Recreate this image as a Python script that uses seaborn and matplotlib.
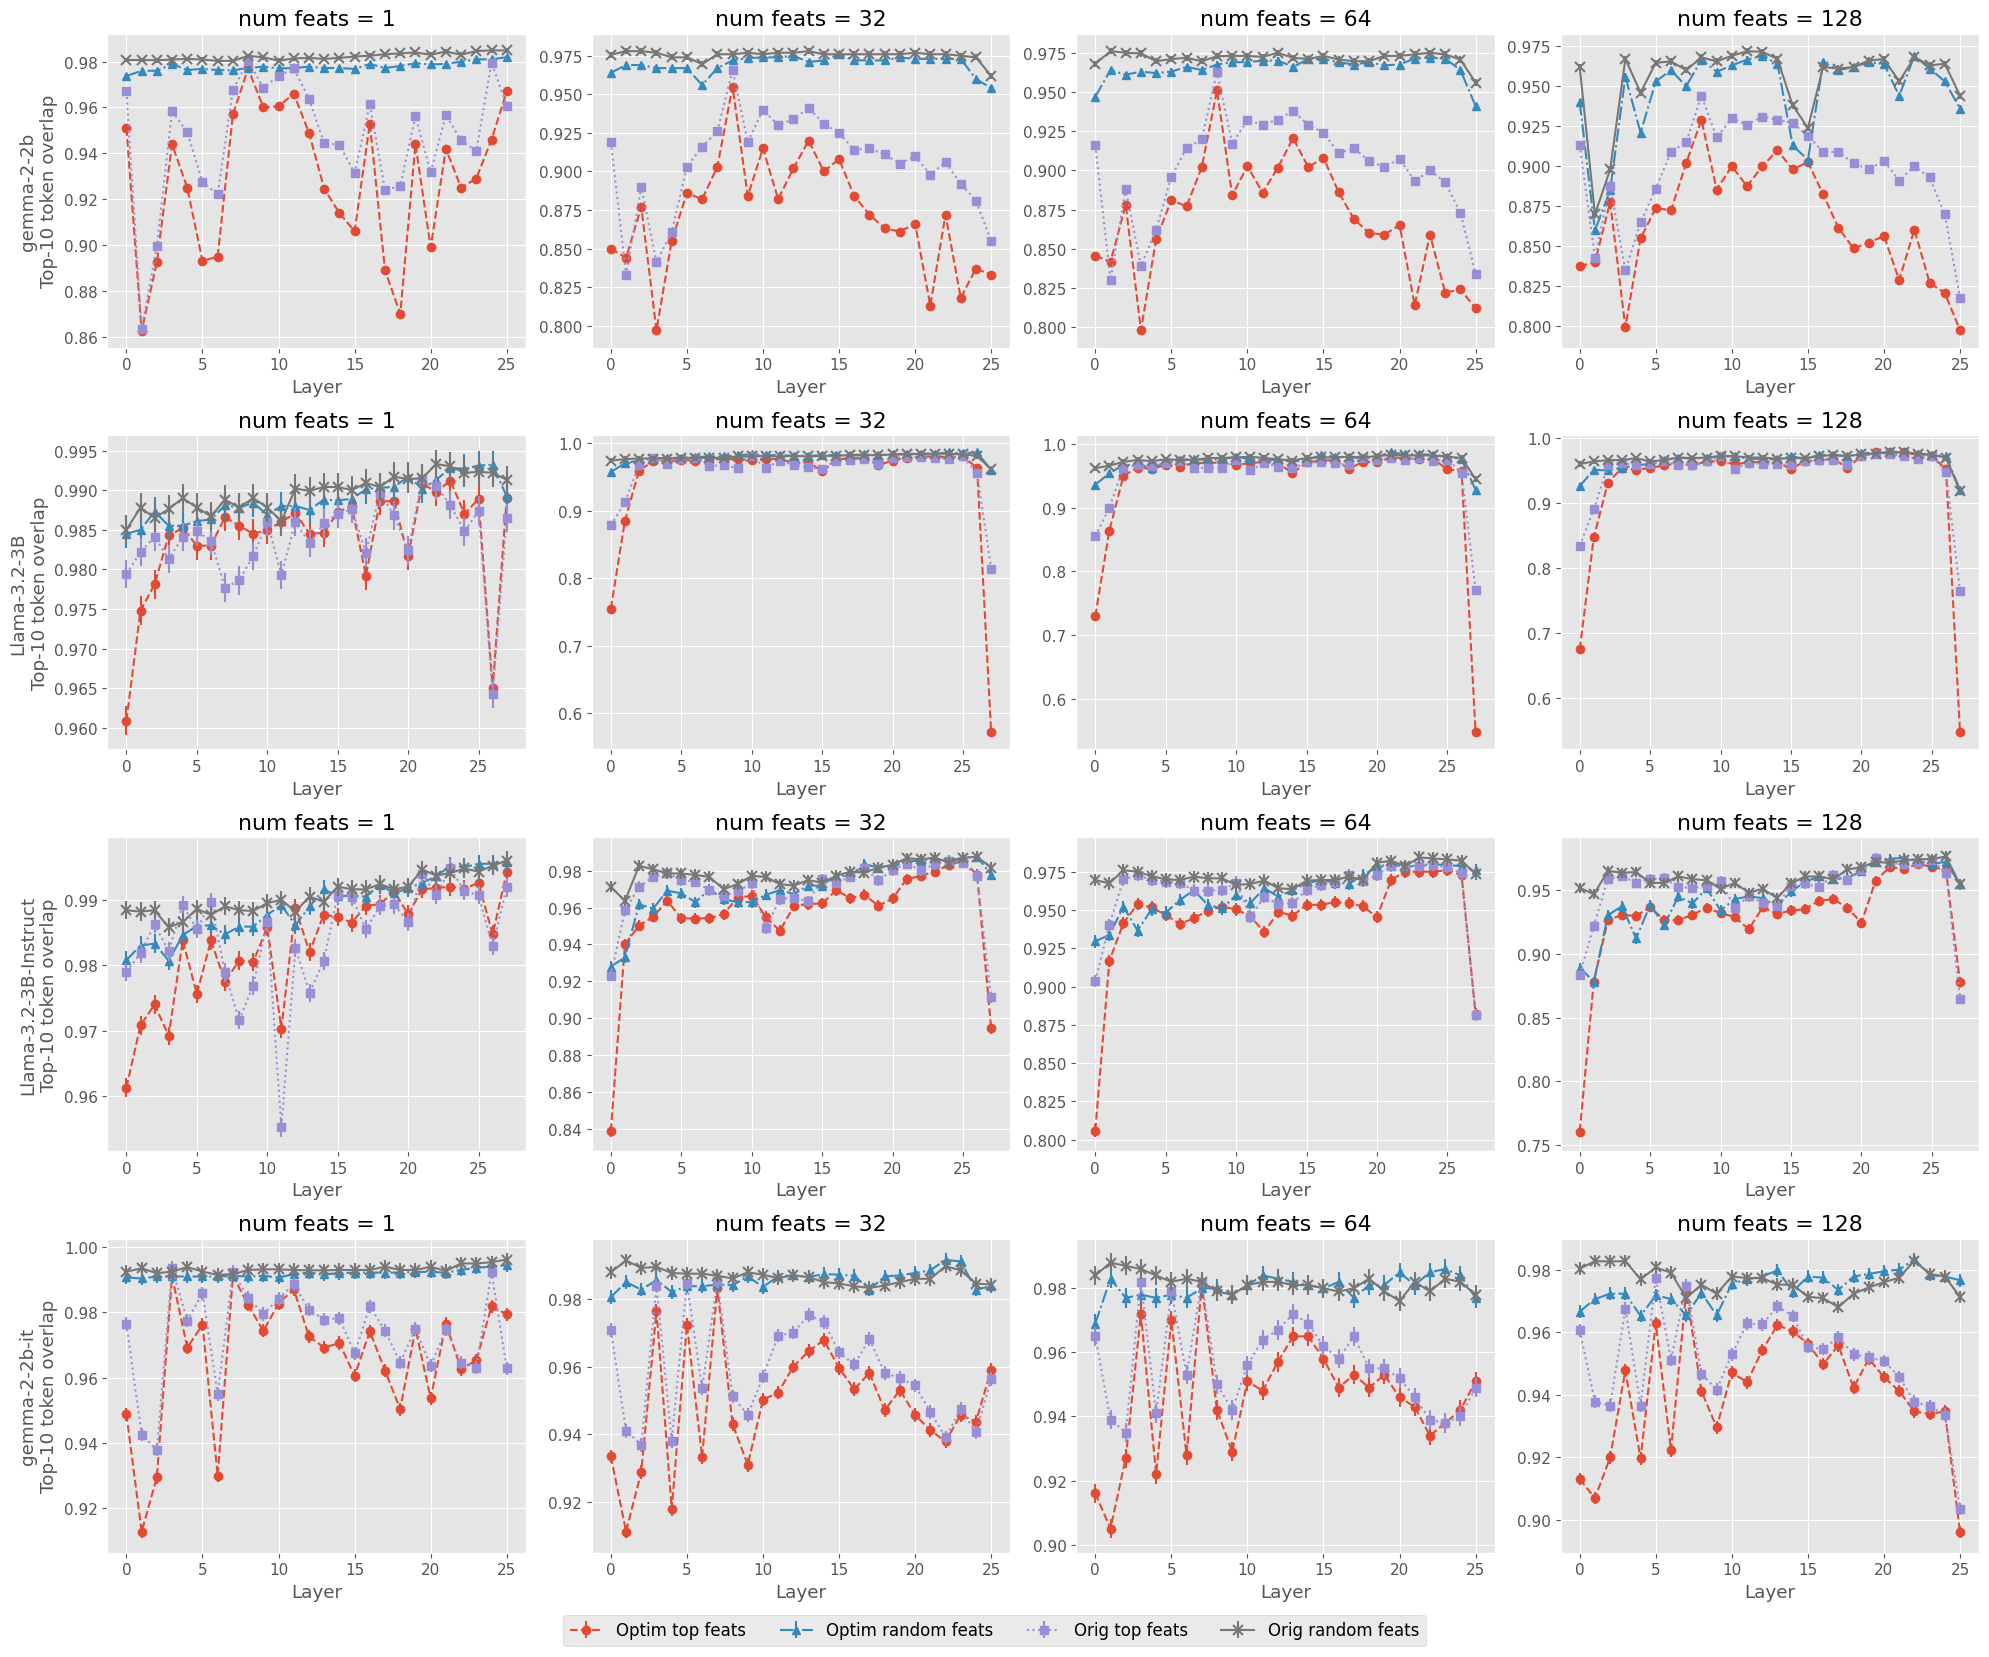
import matplotlib
matplotlib.use("Agg")
import numpy as np
import matplotlib.pyplot as plt
import seaborn as sns

plt.style.use("ggplot")
plt.rcParams["font.size"] = 11

models = ["gemma-2-2b", "Llama-3.2-3B", "Llama-3.2-3B-Instruct", "gemma-2-2b-it"]
num_feats = [1, 32, 64, 128]
series_names = ["Optim top feats", "Optim random feats", "Orig top feats", "Orig random feats"]

# ---- gemma-2-2b ----
gemma_nf1_optim_top = [0.951, 0.8625, 0.8925, 0.944, 0.925, 0.893, 0.895, 0.957, 0.977, 0.960, 0.9605, 0.966, 0.949,
                       0.9245, 0.914, 0.906, 0.953, 0.889, 0.870, 0.944, 0.899, 0.942, 0.925, 0.929, 0.946, 0.967]
gemma_nf1_optim_rand = [0.9737, 0.976, 0.976, 0.979, 0.9763, 0.9769, 0.9763, 0.9762, 0.9773, 0.9778, 0.977, 0.9772,
                        0.9778, 0.9772, 0.9772, 0.9768, 0.979, 0.9772, 0.9781, 0.9793, 0.9788, 0.979, 0.98, 0.981,
                        0.981, 0.9819]
gemma_nf1_orig_top = [0.967, 0.8634, 0.8994, 0.9584, 0.9492, 0.9275, 0.9221, 0.9676, 0.9803, 0.9686, 0.9737, 0.977,
                      0.9638, 0.9443, 0.9438, 0.9314, 0.9614, 0.9241, 0.9257, 0.9562, 0.9317, 0.9567, 0.9456, 0.941,
                      0.9796, 0.9607]
gemma_nf1_orig_rand = [0.9807, 0.9807, 0.9806, 0.9809, 0.9812, 0.9809, 0.9803, 0.9803, 0.9825, 0.9819, 0.9804, 0.9814,
                       0.9816, 0.9812, 0.9816, 0.9822, 0.9826, 0.9832, 0.9836, 0.984, 0.983, 0.9844, 0.983, 0.9846,
                       0.9849, 0.9849]

gemma_nf32_optim_top = [0.850, 0.844, 0.877, 0.797, 0.855, 0.886, 0.882, 0.903, 0.955, 0.884, 0.915, 0.882, 0.902,
                        0.920, 0.900, 0.908, 0.884, 0.872, 0.863, 0.861, 0.866, 0.813, 0.872, 0.818, 0.837, 0.833]
gemma_nf32_optim_rand = [0.964, 0.969, 0.969, 0.967, 0.967, 0.967, 0.956, 0.967, 0.972, 0.9735, 0.974, 0.974, 0.975,
                         0.971, 0.972, 0.976, 0.972, 0.972, 0.972, 0.974, 0.973, 0.973, 0.973, 0.973, 0.960, 0.954]
gemma_nf32_orig_top = [0.919, 0.833, 0.890, 0.841, 0.861, 0.903, 0.916, 0.926, 0.966, 0.919, 0.940, 0.930, 0.934,
                       0.941, 0.931, 0.925, 0.914, 0.915, 0.911, 0.905, 0.910, 0.898, 0.906, 0.892, 0.881, 0.855]
gemma_nf32_orig_rand = [0.9757, 0.978, 0.978, 0.977, 0.974, 0.974, 0.9696, 0.976, 0.976, 0.977, 0.976, 0.977, 0.977,
                        0.978, 0.976, 0.976, 0.976, 0.976, 0.976, 0.976, 0.977, 0.976, 0.976, 0.975, 0.974, 0.962]

gemma_nf64_optim_top = [0.8455, 0.8416, 0.878, 0.798, 0.856, 0.881, 0.877, 0.902, 0.951, 0.884, 0.9027, 0.8857,
                        0.9017, 0.9206, 0.902, 0.908, 0.886, 0.869, 0.860, 0.859, 0.865, 0.814, 0.859, 0.822, 0.824,
                        0.812]
gemma_nf64_optim_rand = [0.947, 0.964, 0.961, 0.963, 0.962, 0.963, 0.966, 0.964, 0.9675, 0.969, 0.969, 0.970, 0.970,
                         0.966, 0.971, 0.971, 0.969, 0.9675, 0.969, 0.967, 0.9675, 0.9713, 0.9718, 0.9713, 0.964,
                         0.941]
gemma_nf64_orig_top = [0.916, 0.830, 0.888, 0.839, 0.862, 0.896, 0.914, 0.920, 0.963, 0.917, 0.932, 0.929, 0.9324,
                       0.938, 0.929, 0.924, 0.911, 0.914, 0.906, 0.902, 0.9075, 0.893, 0.900, 0.8924, 0.873, 0.834]
gemma_nf64_orig_rand = [0.968, 0.976, 0.975, 0.9746, 0.9696, 0.971, 0.9718, 0.9696, 0.9728, 0.973, 0.973, 0.9724,
                        0.975, 0.9718, 0.971, 0.973, 0.9707, 0.9696, 0.9696, 0.973, 0.973, 0.974, 0.975, 0.974,
                        0.9707, 0.956]

gemma_nf128_optim_top = [0.8377, 0.840, 0.8776, 0.7994, 0.855, 0.874, 0.8725, 0.902, 0.929, 0.8855, 0.900, 0.8875,
                         0.900, 0.910, 0.898, 0.9026, 0.8825, 0.8617, 0.8487, 0.8523, 0.8565, 0.829, 0.8604, 0.8273,
                         0.8208, 0.7977]
gemma_nf128_optim_rand = [0.940, 0.860, 0.885, 0.956, 0.921, 0.953, 0.960, 0.950, 0.9666, 0.959, 0.963, 0.9666,
                          0.969, 0.964, 0.913, 0.904, 0.965, 0.960, 0.962, 0.965, 0.964, 0.944, 0.969, 0.961, 0.953,
                          0.936]
gemma_nf128_orig_top = [0.9133, 0.843, 0.888, 0.835, 0.865, 0.886, 0.909, 0.915, 0.944, 0.918, 0.930, 0.926, 0.931,
                        0.929, 0.927, 0.919, 0.909, 0.909, 0.902, 0.898, 0.9035, 0.891, 0.900, 0.893, 0.870, 0.818]
gemma_nf128_orig_rand = [0.962, 0.870, 0.898, 0.967, 0.946, 0.9646, 0.9655, 0.960, 0.968, 0.9655, 0.969, 0.9718,
                         0.9715, 0.967, 0.938, 0.924, 0.962, 0.961, 0.962, 0.966, 0.967, 0.953, 0.968, 0.963, 0.964,
                         0.944]

# ---- Llama-3.2-3B ----
llama_nf1_optim_top = [0.9609, 0.9748, 0.9781, 0.9843, 0.9852, 0.983, 0.983, 0.9866, 0.9855, 0.9845, 0.985, 0.986,
                       0.9871, 0.9845, 0.9846, 0.9872, 0.988, 0.9792, 0.9886, 0.9886, 0.9817, 0.9908, 0.9898, 0.9912,
                       0.987, 0.9889, 0.965, 0.989]
llama_nf1_optim_rand = [0.9845, 0.985, 0.9873, 0.9855, 0.9855, 0.9861, 0.9863, 0.9881, 0.9878, 0.9884, 0.9869, 0.988,
                        0.988, 0.9875, 0.9888, 0.9887, 0.9889, 0.9901, 0.9903, 0.9904, 0.9917, 0.9902, 0.9913, 0.9928,
                        0.9927, 0.9931, 0.9932, 0.9892]
llama_nf1_orig_top = [0.9794, 0.9822, 0.9841, 0.9813, 0.9841, 0.9848, 0.9836, 0.9777, 0.9786, 0.9817, 0.986, 0.9793,
                      0.986, 0.9833, 0.9858, 0.987, 0.9876, 0.9821, 0.9897, 0.9868, 0.9824, 0.9914, 0.9905, 0.9881,
                      0.9848, 0.9874, 0.9643, 0.9865]
llama_nf1_orig_rand = [0.985, 0.9878, 0.9865, 0.9876, 0.989, 0.9878, 0.9867, 0.9888, 0.9878, 0.989, 0.9878, 0.9861,
                       0.9902, 0.9899, 0.9904, 0.9904, 0.99, 0.9909, 0.9904, 0.9917, 0.9914, 0.9915, 0.9933, 0.993,
                       0.9922, 0.9923, 0.9922, 0.9913]

llama_nf32_optim_top = [0.755, 0.885, 0.959, 0.973, 0.973, 0.975, 0.974, 0.976, 0.976, 0.976, 0.975, 0.977, 0.976,
                        0.970, 0.972, 0.958, 0.975, 0.978, 0.978, 0.967, 0.974, 0.978, 0.980, 0.980, 0.979, 0.980,
                        0.963, 0.572]
llama_nf32_optim_rand = [0.957, 0.970, 0.974, 0.977, 0.978, 0.978, 0.979, 0.980, 0.980, 0.982, 0.983, 0.982, 0.982,
                         0.981, 0.981, 0.982, 0.982, 0.982, 0.983, 0.982, 0.983, 0.984, 0.984, 0.984, 0.986, 0.985,
                         0.986, 0.960]
llama_nf32_orig_top = [0.878, 0.912, 0.968, 0.978, 0.969, 0.976, 0.978, 0.966, 0.967, 0.963, 0.980, 0.963, 0.974,
                       0.967, 0.964, 0.962, 0.974, 0.975, 0.977, 0.969, 0.978, 0.979, 0.979, 0.978, 0.977, 0.980,
                       0.955, 0.814]
llama_nf32_orig_rand = [0.974, 0.976, 0.977, 0.977, 0.977, 0.978, 0.978, 0.978, 0.978, 0.980, 0.980, 0.981, 0.980,
                        0.981, 0.980, 0.981, 0.981, 0.982, 0.982, 0.982, 0.983, 0.983, 0.984, 0.984, 0.984, 0.983,
                        0.981, 0.961]

llama_nf64_optim_top = [0.7295, 0.864, 0.950, 0.963, 0.961, 0.967, 0.9645, 0.970, 0.970, 0.971, 0.967, 0.970, 0.972,
                        0.970, 0.954, 0.971, 0.974, 0.975, 0.961, 0.972, 0.971, 0.979, 0.978, 0.976, 0.976, 0.960,
                        0.958, 0.547]
llama_nf64_optim_rand = [0.936, 0.954, 0.967, 0.967, 0.963, 0.970, 0.975, 0.976, 0.975, 0.976, 0.980, 0.976, 0.975,
                         0.975, 0.972, 0.975, 0.982, 0.980, 0.979, 0.978, 0.980, 0.987, 0.984, 0.984, 0.983, 0.980,
                         0.976, 0.928]
llama_nf64_orig_top = [0.855, 0.900, 0.963, 0.967, 0.9655, 0.970, 0.974, 0.962, 0.963, 0.963, 0.975, 0.959, 0.970,
                       0.9645, 0.962, 0.971, 0.971, 0.970, 0.967, 0.978, 0.975, 0.978, 0.975, 0.978, 0.974, 0.975,
                       0.955, 0.771]
llama_nf64_orig_rand = [0.962, 0.966, 0.972, 0.975, 0.973, 0.976, 0.975, 0.975, 0.978, 0.978, 0.979, 0.980, 0.978,
                        0.976, 0.974, 0.978, 0.979, 0.979, 0.980, 0.979, 0.981, 0.983, 0.982, 0.982, 0.982, 0.980,
                        0.978, 0.945]

llama_nf128_optim_top = [0.6744, 0.847, 0.931, 0.954, 0.951, 0.954, 0.958, 0.961, 0.958, 0.964, 0.964, 0.960, 0.962,
                         0.964, 0.962, 0.953, 0.964, 0.966, 0.968, 0.954, 0.972, 0.978, 0.978, 0.978, 0.974, 0.972,
                         0.952, 0.5464]
llama_nf128_optim_rand = [0.926, 0.951, 0.950, 0.954, 0.958, 0.960, 0.966, 0.970, 0.968, 0.970, 0.972, 0.972, 0.968,
                          0.968, 0.967, 0.972, 0.968, 0.974, 0.974, 0.972, 0.977, 0.977, 0.978, 0.978, 0.976, 0.974,
                          0.972, 0.920]
llama_nf128_orig_top = [0.834, 0.890, 0.958, 0.962, 0.958, 0.960, 0.964, 0.958, 0.958, 0.964, 0.972, 0.952, 0.962,
                        0.960, 0.960, 0.958, 0.964, 0.966, 0.966, 0.958, 0.972, 0.976, 0.976, 0.972, 0.968, 0.972,
                        0.948, 0.764]
llama_nf128_orig_rand = [0.960, 0.964, 0.966, 0.966, 0.969, 0.964, 0.966, 0.970, 0.969, 0.970, 0.972, 0.972, 0.970,
                         0.970, 0.968, 0.969, 0.969, 0.972, 0.974, 0.972, 0.975, 0.976, 0.978, 0.978, 0.976, 0.974,
                         0.970, 0.918]

# ---- Llama-3.2-3B-Instruct ----
llama_it_nf1_optim_top = [0.9613, 0.9708, 0.974, 0.9692, 0.9838, 0.9756, 0.9838, 0.9775, 0.9807, 0.9805, 0.9858,
                          0.9703, 0.9887, 0.982, 0.9877, 0.9874, 0.9865, 0.9891, 0.9893, 0.9913, 0.9878, 0.9916,
                          0.9918, 0.992, 0.9917, 0.9926, 0.9847, 0.9942]
llama_it_nf1_optim_rand = [0.9808, 0.983, 0.9833, 0.9807, 0.9846, 0.986, 0.9861, 0.9847, 0.9859, 0.9859, 0.9877,
                           0.9892, 0.9861, 0.989, 0.9916, 0.9906, 0.9906, 0.9905, 0.9923, 0.991, 0.9918, 0.9926,
                           0.9936, 0.9952, 0.995, 0.9955, 0.9955, 0.9958]
llama_it_nf1_orig_top = [0.979, 0.9818, 0.9863, 0.9821, 0.9892, 0.9855, 0.9896, 0.9789, 0.9716, 0.9769, 0.9866,
                         0.9552, 0.9826, 0.9758, 0.9806, 0.9907, 0.9905, 0.9855, 0.989, 0.9893, 0.9866, 0.9939,
                         0.9908, 0.9948, 0.9913, 0.9907, 0.9829, 0.9919]
llama_it_nf1_orig_rand = [0.9884, 0.9882, 0.9884, 0.9858, 0.9866, 0.9886, 0.9877, 0.989, 0.9884, 0.9883, 0.9895,
                          0.99, 0.9882, 0.9905, 0.9897, 0.992, 0.9916, 0.9916, 0.9924, 0.9916, 0.992, 0.9946, 0.9937,
                          0.9941, 0.9948, 0.9943, 0.9952, 0.996]

llama_it_nf32_optim_top = [0.8386, 0.9402, 0.9502, 0.955, 0.9637, 0.9543, 0.9541, 0.9543, 0.9565, 0.9655, 0.9664,
                           0.955, 0.9474, 0.961, 0.962, 0.9623, 0.9695, 0.9652, 0.967, 0.961, 0.965, 0.9755, 0.9773,
                           0.9796, 0.9833, 0.9854, 0.978, 0.8945]
llama_it_nf32_optim_rand = [0.928, 0.933, 0.9618, 0.9595, 0.9692, 0.9678, 0.963, 0.970, 0.9646, 0.963, 0.963, 0.967,
                            0.9695, 0.9674, 0.972, 0.972, 0.9773, 0.9773, 0.9836, 0.9818, 0.9822, 0.9854, 0.9854,
                            0.9863, 0.9854, 0.9872, 0.9876, 0.978]
llama_it_nf32_orig_top = [0.923, 0.9585, 0.9713, 0.9767, 0.979, 0.975, 0.9742, 0.9695, 0.9664, 0.9688, 0.9733,
                          0.9489, 0.9646, 0.9655, 0.9634, 0.9754, 0.9736, 0.9767, 0.9814, 0.975, 0.9804, 0.984,
                          0.9804, 0.9836, 0.9854, 0.9845, 0.9773, 0.9114]
llama_it_nf32_orig_rand = [0.9713, 0.9637, 0.9827, 0.9809, 0.9786, 0.9786, 0.9778, 0.9767, 0.9701, 0.9728, 0.9773,
                           0.9767, 0.9728, 0.972, 0.975, 0.9736, 0.9773, 0.9796, 0.979, 0.9818, 0.9833, 0.9869,
                           0.9863, 0.9872, 0.9845, 0.9872, 0.9876, 0.9818]

llama_it_nf64_optim_top = [0.806, 0.9168, 0.9415, 0.9538, 0.9517, 0.9468, 0.9408, 0.9447, 0.9496, 0.9522, 0.9504,
                           0.946, 0.9355, 0.949, 0.9462, 0.9534, 0.9534, 0.9551, 0.9545, 0.9524, 0.9454, 0.9696,
                           0.975, 0.975, 0.975, 0.976, 0.9728, 0.8823]
llama_it_nf64_optim_rand = [0.9295, 0.9338, 0.9522, 0.9366, 0.9504, 0.9483, 0.9565, 0.963, 0.9532, 0.951, 0.9597,
                            0.9545, 0.9642, 0.9587, 0.963, 0.9673, 0.9696, 0.9679, 0.9673, 0.9728, 0.978, 0.9804,
                            0.978, 0.9793, 0.980, 0.9793, 0.9787, 0.976]
llama_it_nf64_orig_top = [0.9037, 0.9404, 0.970, 0.9728, 0.9696, 0.9685, 0.9679, 0.9627, 0.9627, 0.963, 0.9679,
                          0.9457, 0.9584, 0.9538, 0.9545, 0.963, 0.9664, 0.9685, 0.9728, 0.9692, 0.9728, 0.9787,
                          0.9787, 0.9787, 0.9793, 0.978, 0.9739, 0.8815]
llama_it_nf64_orig_rand = [0.9696, 0.9674, 0.976, 0.975, 0.9722, 0.970, 0.9696, 0.9718, 0.9707, 0.9707, 0.9664,
                           0.967, 0.9692, 0.9642, 0.9636, 0.9692, 0.9696, 0.9696, 0.9718, 0.9696, 0.9809, 0.9822,
                           0.9787, 0.9843, 0.9837, 0.983, 0.9822, 0.9735]

llama_it_nf128_optim_top = [0.7606, 0.8784, 0.9267, 0.9309, 0.930, 0.9369, 0.9267, 0.9267, 0.9309, 0.9364, 0.9322,
                            0.9292, 0.9195, 0.9369, 0.9314, 0.9343, 0.9352, 0.942, 0.9432, 0.9364, 0.9246, 0.9576,
                            0.9682, 0.967, 0.9708, 0.9686, 0.9661, 0.878]
llama_it_nf128_optim_rand = [0.8894, 0.8784, 0.9305, 0.9377, 0.9123, 0.9386, 0.9229, 0.9453, 0.9398, 0.9517, 0.9343,
                             0.9432, 0.9453, 0.944, 0.9377, 0.9492, 0.9568, 0.961, 0.9589, 0.9597, 0.9653, 0.9725,
                             0.9746, 0.9758, 0.9729, 0.9708, 0.9725, 0.9547]
llama_it_nf128_orig_top = [0.8839, 0.922, 0.9593, 0.9614, 0.9559, 0.9589, 0.9597, 0.9525, 0.9521, 0.9538, 0.9576,
                           0.9364, 0.9453, 0.9403, 0.9377, 0.9538, 0.9555, 0.9525, 0.9619, 0.958, 0.9661, 0.9758,
                           0.9716, 0.9708, 0.9716, 0.9737, 0.964, 0.8648]
llama_it_nf128_orig_rand = [0.9521, 0.947, 0.9653, 0.964, 0.9644, 0.9559, 0.9559, 0.961, 0.9589, 0.958, 0.9513,
                            0.9559, 0.9483, 0.9513, 0.944, 0.9555, 0.961, 0.961, 0.9589, 0.9665, 0.9682, 0.9725,
                            0.9716, 0.9737, 0.9746, 0.9746, 0.9767, 0.9547]

# ---- gemma-2-2b-it ----
gemma_it_nf1_optim_top = [0.9488, 0.9127, 0.9294, 0.991, 0.9692, 0.9762, 0.9299, 0.9912, 0.9823, 0.9743, 0.9827,
                          0.9871, 0.9726, 0.9692, 0.9706, 0.9605, 0.9742, 0.9621, 0.9503, 0.975, 0.9536, 0.9765,
                          0.9626, 0.9653, 0.9818, 0.9794]
gemma_it_nf1_optim_rand = [0.9907, 0.9904, 0.991, 0.991, 0.991, 0.991, 0.991, 0.9912, 0.991, 0.9912, 0.9907, 0.9917,
                           0.9922, 0.9917, 0.992, 0.9922, 0.9922, 0.9922, 0.9922, 0.9924, 0.9924, 0.9922, 0.993,
                           0.9937, 0.994, 0.9945]
gemma_it_nf1_orig_top = [0.9765, 0.9425, 0.9378, 0.9936, 0.9775, 0.9859, 0.9549, 0.9924, 0.9845, 0.9795, 0.9841,
                         0.9887, 0.9808, 0.9778, 0.9782, 0.9674, 0.9819, 0.9744, 0.9646, 0.975, 0.9636, 0.9748,
                         0.9646, 0.963, 0.9924, 0.9628]
gemma_it_nf1_orig_rand = [0.9925, 0.9935, 0.992, 0.9925, 0.9939, 0.9925, 0.9915, 0.9917, 0.993, 0.9932, 0.9932,
                          0.993, 0.9929, 0.9929, 0.993, 0.993, 0.993, 0.994, 0.993, 0.993, 0.994, 0.9927, 0.995,
                          0.995, 0.9954, 0.9962]

gemma_it_nf32_optim_top = [0.9335, 0.9113, 0.9289, 0.9764, 0.9179, 0.9723, 0.9332, 0.9832, 0.943, 0.931, 0.9502,
                           0.9523, 0.960, 0.9645, 0.9678, 0.9596, 0.9533, 0.9581, 0.9471, 0.953, 0.9457, 0.9412,
                           0.9379, 0.9457, 0.9437, 0.9591]
gemma_it_nf32_optim_rand = [0.9805, 0.9849, 0.9827, 0.9855, 0.982, 0.9837, 0.9837, 0.9842, 0.984, 0.9866, 0.9835,
                            0.9866, 0.9869, 0.9864, 0.9873, 0.9871, 0.9868, 0.9827, 0.9866, 0.9869, 0.9876, 0.9884,
                            0.9915, 0.991, 0.9827, 0.9837]
gemma_it_nf32_orig_top = [0.9707, 0.941, 0.9369, 0.9839, 0.938, 0.9847, 0.9536, 0.9852, 0.9512, 0.9457, 0.957,
                          0.9691, 0.970, 0.9752, 0.9732, 0.9642, 0.9606, 0.9681, 0.9581, 0.9566, 0.9544, 0.9466,
                          0.9391, 0.9474, 0.9406, 0.9563]
gemma_it_nf32_orig_rand = [0.9878, 0.9913, 0.9891, 0.9894, 0.9876, 0.9874, 0.9874, 0.9868, 0.986, 0.9878, 0.9871,
                           0.9861, 0.9869, 0.9864, 0.9849, 0.9845, 0.9837, 0.9832, 0.9839, 0.9849, 0.9859, 0.9859,
                           0.9896, 0.9884, 0.9845, 0.9842]

gemma_it_nf64_optim_top = [0.916, 0.905, 0.927, 0.972, 0.922, 0.970, 0.928, 0.981, 0.942, 0.929, 0.951, 0.948, 0.957,
                           0.965, 0.965, 0.958, 0.949, 0.953, 0.949, 0.953, 0.946, 0.943, 0.934, 0.938, 0.942, 0.951]
gemma_it_nf64_optim_rand = [0.969, 0.983, 0.977, 0.978, 0.977, 0.978, 0.977, 0.980, 0.980, 0.978, 0.981, 0.984,
                            0.983, 0.982, 0.981, 0.980, 0.982, 0.977, 0.981, 0.981, 0.985, 0.981, 0.985, 0.986, 0.984,
                            0.977]
gemma_it_nf64_orig_top = [0.965, 0.939, 0.935, 0.982, 0.941, 0.979, 0.953, 0.982, 0.950, 0.942, 0.956, 0.964, 0.967,
                          0.972, 0.969, 0.962, 0.958, 0.965, 0.955, 0.955, 0.952, 0.946, 0.939, 0.938, 0.940, 0.949]
gemma_it_nf64_orig_rand = [0.984, 0.988, 0.987, 0.986, 0.984, 0.982, 0.983, 0.982, 0.979, 0.978, 0.981, 0.982, 0.982,
                           0.981, 0.981, 0.980, 0.979, 0.980, 0.983, 0.979, 0.976, 0.982, 0.979, 0.983, 0.982, 0.978]

gemma_it_nf128_optim_top = [0.9131, 0.907, 0.920, 0.9478, 0.9197, 0.9628, 0.9223, 0.973, 0.9412, 0.9296, 0.9472,
                            0.944, 0.9543, 0.9623, 0.9603, 0.9563, 0.9498, 0.9558, 0.9423, 0.9515, 0.9457, 0.9412,
                            0.9347, 0.9339, 0.9347, 0.8962]
gemma_it_nf128_optim_rand = [0.9666, 0.9706, 0.9723, 0.9723, 0.9652, 0.9718, 0.9706, 0.9654, 0.9726, 0.9654, 0.9755,
                             0.9769, 0.9778, 0.9798, 0.973, 0.9778, 0.9774, 0.9735, 0.9778, 0.9786, 0.9795, 0.980,
                             0.9833, 0.9783, 0.9778, 0.9766]
gemma_it_nf128_orig_top = [0.9606, 0.9378, 0.9366, 0.9675, 0.9366, 0.9773, 0.9512, 0.9749, 0.9467, 0.9417, 0.9529,
                           0.9628, 0.9625, 0.9683, 0.9652, 0.9553, 0.9546, 0.9584, 0.9529, 0.952, 0.9508, 0.9457,
                           0.9378, 0.9363, 0.9337, 0.9035]
gemma_it_nf128_orig_rand = [0.9803, 0.9827, 0.9826, 0.9827, 0.9769, 0.9807, 0.979, 0.9709, 0.9752, 0.9723, 0.9778,
                            0.9773, 0.9773, 0.9752, 0.9752, 0.9713, 0.9709, 0.968, 0.9723, 0.9743, 0.976, 0.9774,
                            0.9829, 0.9786, 0.9778, 0.9713]

# approximate half-width of the error bars in each panel
err_size = [[0.001, 0.002, 0.002, 0.002],
            [0.0018, 0.004, 0.004, 0.004],
            [0.0014, 0.003, 0.004, 0.004],
            [0.002, 0.002, 0.003, 0.002]]

g = globals()
prefixes = ["gemma", "llama", "llama_it", "gemma_it"]
suffixes = ["optim_top", "optim_rand", "orig_top", "orig_rand"]

colors = ["#E24A33", "#348ABD", "#988ED5", "#777777"]
markers = ["o", "^", "s", "x"]
linestyles = ["--", "-.", ":", "-"]

fig, axes = plt.subplots(4, 4, figsize=(19.89, 16.58), dpi=100)
fig.subplots_adjust(left=0.054, right=0.995, top=0.979, bottom=0.063, wspace=0.158, hspace=0.28)

legend_handles = []
for i, model in enumerate(models):
    for j, nf in enumerate(num_feats):
        ax = axes[i, j]
        for k in range(4):
            vals = np.array(g[f"{prefixes[i]}_nf{nf}_{suffixes[k]}"])
            layers = np.arange(len(vals))
            eb = ax.errorbar(layers, vals, yerr=err_size[i][j], fmt="none", ecolor=colors[k],
                             elinewidth=1.5, capsize=0)
            sns.lineplot(x=layers, y=vals, ax=ax, color=colors[k], marker=markers[k],
                         linestyle=linestyles[k], markersize=7 if markers[k] == "x" else 6,
                         markeredgecolor=colors[k], markeredgewidth=1.5 if markers[k] == "x" else 1,
                         linewidth=1.5)
            if i == 0 and j == 0:
                legend_handles.append((ax.get_lines()[-1], eb))
        ax.set_title(f"num feats = {nf}")
        ax.set_xlabel("Layer")
        if j == 0:
            ax.set_ylabel(f"{model}\nTop-10 token overlap")
        else:
            ax.set_ylabel("")

fig.legend(legend_handles, series_names, loc="center", ncol=4, bbox_to_anchor=(0.5, 0.016), fontsize=12)

fig.savefig("out.png", dpi=100)
